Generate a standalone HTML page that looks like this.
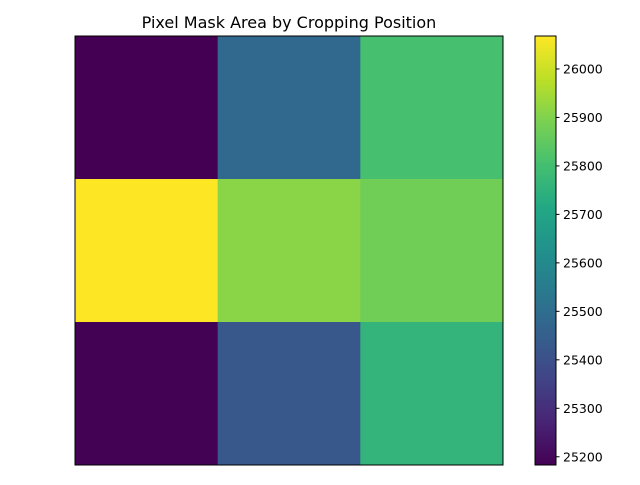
<!DOCTYPE html>
<html><head><meta charset="utf-8"><style>
body{margin:0;background:#fff;font-family:"Liberation Sans","DejaVu Sans",sans-serif}
</style></head><body>
<svg id="chart" width="640" height="480" xmlns="http://www.w3.org/2000/svg">
<rect width="640" height="480" fill="#fff"/>
<text x="289" y="28" text-anchor="middle" font-size="16" font-family="DejaVu Sans, Liberation Sans, sans-serif">Pixel Mask Area by Cropping Position</text>
<g id="cells"></g>
<rect x="75" y="36" width="428" height="429" fill="none" stroke="#000" stroke-width="1"/>
<defs><linearGradient id="vg" x1="0" y1="1" x2="0" y2="0"></linearGradient></defs>
<rect x="535" y="36" width="21" height="429" fill="url(#vg)"/>
<rect x="535" y="36" width="21" height="429" fill="none" stroke="#000" stroke-width="1"/>
<g id="cbticks"></g>
</svg>
<script>
const rows = ["top","middle","bottom"];
const cols = ["left","center","right"];
const values = [
  [25183, 25480, 25805],
  [26068, 25912, 25875],
  [25185, 25425, 25760]
];
const cbTicks = [25200,25300,25400,25500,25600,25700,25800,25900,26000];
const vmin = 25183, vmax = 26068;

const VIR = ["#440154","#482475","#414487","#355f8d","#2a788e","#21918c","#22a884","#44bf70","#7ad151","#bddf26","#fde725"];
function hex(c){return [1,3,5].map(i=>parseInt(c.substr(i,2),16));}
function viridis(t){t=Math.max(0,Math.min(1,t));const p=t*10,i=Math.min(9,Math.floor(p)),f=p-i;
 const a=hex(VIR[i]),b=hex(VIR[i+1]);return "rgb("+a.map((v,k)=>Math.round(v+(b[k]-v)*f)).join(",")+")";}
const NS="http://www.w3.org/2000/svg";
const x0=75,y0=36,W=428,H=429,cw=W/cols.length,ch=H/rows.length;
const cells=document.getElementById("cells");
values.forEach((row,r)=>row.forEach((v,c)=>{
 const el=document.createElementNS(NS,"rect");
 el.setAttribute("x",x0+c*cw);el.setAttribute("y",y0+r*ch);
 el.setAttribute("width",cw+0.5);el.setAttribute("height",ch+0.5);
 el.setAttribute("fill",viridis((v-vmin)/(vmax-vmin)));
 
 
 cells.appendChild(el);
}));
const g=document.getElementById("vg");
VIR.forEach((c,i)=>{const s=document.createElementNS(NS,"stop");s.setAttribute("offset",(i*10)+"%");s.setAttribute("stop-color",c);g.appendChild(s);});
const cy=v=>465-(v-vmin)/(vmax-vmin)*429;
const tg=document.getElementById("cbticks");
cbTicks.forEach(t=>{
 const y=cy(t);
 const l=document.createElementNS(NS,"line");
 l.setAttribute("x1",556);l.setAttribute("x2",559.5);l.setAttribute("y1",y);l.setAttribute("y2",y);l.setAttribute("stroke","#000");
 
 
 tg.appendChild(l);
 const tx=document.createElementNS(NS,"text");
 tx.setAttribute("x",563);tx.setAttribute("y",y+4.5);tx.setAttribute("font-size","12.5");
 tx.setAttribute("font-family","DejaVu Sans, Liberation Sans, sans-serif");
 tx.textContent=t;
 
 
 tg.appendChild(tx);
});
</script>
</body></html>
